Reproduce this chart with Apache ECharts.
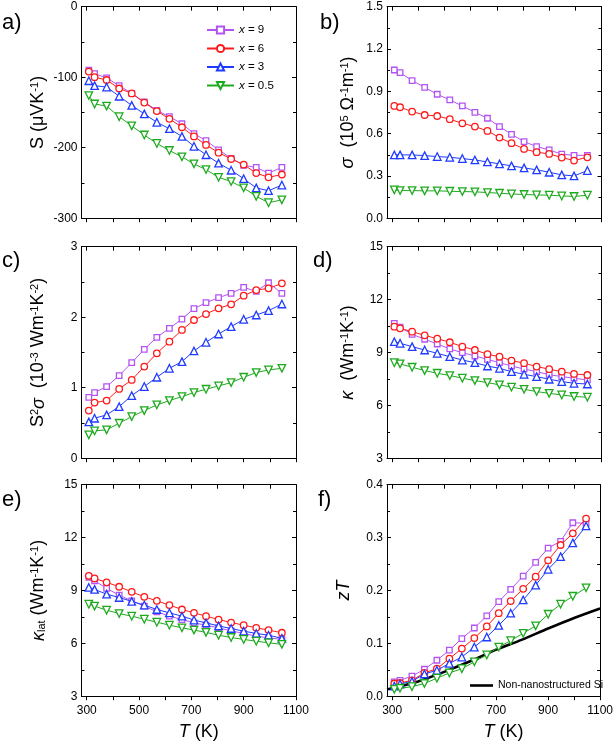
<!DOCTYPE html>
<html><head><meta charset="utf-8">
<script src="https://cdn.jsdelivr.net/npm/echarts@6/dist/echarts.min.js"></script>
<style>html,body{margin:0;padding:0;background:#fff}#c{width:616px;height:746px}</style>
</head><body><div id="c"></div>
<script>
const T = [308, 330, 376, 424, 472, 520, 568, 616, 664, 710, 756, 804, 852, 900, 948, 995, 1046];
const seriesNames = ['x = 9', 'x = 6', 'x = 3', 'x = 0.5'];
// a) Seebeck
const S9 = [-90, -95, -101, -112, -123, -135, -147, -156, -166, -180, -190, -203, -215, -225, -228, -236, -228];
const S6 = [-92, -100, -104, -116, -123, -136, -148, -159, -171, -184, -196, -207, -216, -224, -236, -242, -238];
const S3 = [-105, -112, -114, -127, -140, -152, -164, -173, -184, -198, -210, -222, -232, -244, -257, -261, -253];
const S05 = [-126, -138, -141, -156, -169, -182, -194, -204, -213, -223, -231, -242, -248, -257, -269, -278, -274];
// b) conductivity
const sig9 = [1.051, 1.032, 0.976, 0.928, 0.879, 0.839, 0.796, 0.751, 0.709, 0.650, 0.595, 0.543, 0.508, 0.484, 0.454, 0.446, 0.446];
const sig6 = [0.796, 0.787, 0.756, 0.732, 0.725, 0.702, 0.673, 0.650, 0.619, 0.572, 0.532, 0.491, 0.468, 0.456, 0.430, 0.409, 0.432];
const sig3 = [0.449, 0.449, 0.449, 0.444, 0.437, 0.432, 0.423, 0.413, 0.399, 0.385, 0.371, 0.357, 0.343, 0.326, 0.307, 0.300, 0.338];
const sig05 = [0.201, 0.196, 0.196, 0.194, 0.194, 0.191, 0.189, 0.187, 0.182, 0.177, 0.172, 0.168, 0.165, 0.163, 0.158, 0.154, 0.163];
// c) power factor
const pf9 = [0.864, 0.931, 1.016, 1.171, 1.356, 1.545, 1.715, 1.842, 1.974, 2.121, 2.206, 2.277, 2.338, 2.423, 2.367, 2.489, 2.338];
const pf6 = [0.675, 0.789, 0.817, 0.983, 1.110, 1.299, 1.488, 1.653, 1.819, 1.960, 2.045, 2.126, 2.182, 2.305, 2.385, 2.409, 2.480];
const pf3 = [0.515, 0.567, 0.614, 0.732, 0.888, 1.016, 1.148, 1.275, 1.370, 1.521, 1.644, 1.762, 1.866, 1.970, 2.031, 2.093, 2.187];
const pf05 = [0.331, 0.387, 0.402, 0.496, 0.590, 0.675, 0.756, 0.817, 0.874, 0.931, 0.978, 1.025, 1.072, 1.148, 1.214, 1.252, 1.275];
// d) thermal conductivity
const k9 = [10.65, 10.43, 10.03, 9.75, 9.48, 9.20, 8.99, 8.80, 8.61, 8.42, 8.23, 8.06, 7.91, 7.74, 7.63, 7.54, 7.44];
const k6 = [10.46, 10.37, 10.18, 9.97, 9.78, 9.58, 9.33, 9.14, 8.90, 8.76, 8.54, 8.39, 8.20, 8.05, 7.91, 7.78, 7.72];
const k3 = [9.61, 9.52, 9.33, 9.14, 8.95, 8.76, 8.57, 8.42, 8.23, 8.10, 7.91, 7.76, 7.63, 7.48, 7.35, 7.25, 7.21];
const k05 = [8.42, 8.35, 8.16, 7.97, 7.82, 7.69, 7.54, 7.40, 7.29, 7.16, 7.03, 6.91, 6.78, 6.68, 6.59, 6.50, 6.46];
// e) lattice thermal conductivity
const kl9 = [9.75, 9.55, 9.12, 8.73, 8.41, 8.11, 7.79, 7.54, 7.35, 7.16, 7.03, 6.88, 6.71, 6.56, 6.41, 6.31, 6.22];
const kl6 = [9.83, 9.68, 9.46, 9.21, 8.92, 8.64, 8.41, 8.17, 7.92, 7.73, 7.54, 7.35, 7.18, 7.03, 6.88, 6.75, 6.60];
const kl3 = [9.17, 9.06, 8.79, 8.60, 8.38, 8.17, 7.92, 7.73, 7.54, 7.32, 7.16, 6.99, 6.84, 6.69, 6.56, 6.46, 6.28];
const kl05 = [8.22, 8.11, 7.88, 7.69, 7.54, 7.37, 7.20, 7.03, 6.88, 6.75, 6.62, 6.46, 6.33, 6.22, 6.12, 6.03, 5.94];
// f) zT
const zt9 = [0.027, 0.030, 0.038, 0.051, 0.068, 0.087, 0.109, 0.129, 0.152, 0.179, 0.202, 0.227, 0.253, 0.280, 0.293, 0.328, 0.327];
const zt6 = [0.024, 0.025, 0.030, 0.044, 0.052, 0.071, 0.090, 0.110, 0.132, 0.157, 0.180, 0.203, 0.226, 0.257, 0.286, 0.308, 0.336];
const zt3 = [0.019, 0.023, 0.028, 0.042, 0.049, 0.062, 0.074, 0.093, 0.112, 0.134, 0.157, 0.182, 0.210, 0.240, 0.264, 0.290, 0.322];
const zt05 = [0.013, 0.015, 0.018, 0.024, 0.034, 0.044, 0.052, 0.065, 0.078, 0.093, 0.105, 0.119, 0.133, 0.155, 0.174, 0.189, 0.205];
const siName = 'Non-nanostructured Si';
const siT = [280, 300, 400, 500, 600, 700, 800, 900, 1000, 1100];
const siZT = [0.013, 0.015, 0.028, 0.046, 0.066, 0.088, 0.107, 0.128, 0.148, 0.166];

const xTicks = [300, 400, 500, 600, 700, 800, 900, 1000, 1100];
const xLabels = [300, 500, 700, 900, 1100];

const FONT = 'Liberation Sans, Arial, sans-serif';
const colors = ['#B354F2', '#FF1A1A', '#1F3BFF', '#1EAA1E'];
const symbols = ['rect', 'circle', 'triangle', 'triangle'];
const symSizes = [5.5, 6.5, 7.5, 7.5];
const symRot = [0, 0, 0, 180];

const panelData = [
  [S9, S6, S3, S05], [sig9, sig6, sig3, sig05],
  [pf9, pf6, pf3, pf05], [k9, k6, k3, k05],
  [kl9, kl6, kl3, kl05], [zt9, zt6, zt3, zt05]
];
const yCfg = [
  {min: -300, max: 0, interval: 100, fmt: v => String(v)},
  {min: 0, max: 1.5, interval: 0.3, fmt: v => v.toFixed(1)},
  {min: 0, max: 3, interval: 1, fmt: v => String(v)},
  {min: 3, max: 15, interval: 3, fmt: v => String(v)},
  {min: 3, max: 15, interval: 3, fmt: v => String(v)},
  {min: 0, max: 0.4, interval: 0.1, fmt: v => v.toFixed(1)}
];
const yNames = [
  '{n|S (μVK}{sup|-1}{n|)}',
  '{i|σ}{n|  (10}{sup|5}{n| Ω}{sup|-1}{n|m}{sup|-1}{n|)}',
  '{n|S}{sup|2}{i|σ}{n|  (10}{sup|-3}{n| Wm}{sup|-1}{n|K}{sup|-2}{n|)}',
  '{i|κ}{n|  (Wm}{sup|-1}{n|K}{sup|-1}{n|)}',
  '{i|κ}{sub|lat}{n| (Wm}{sup|-1}{n|K}{sup|-1}{n|)}',
  '{i|zT}'
];
const yGaps = [34, 30, 34, 30, 34, 34];
const panelLabels = ['a)', 'b)', 'c)', 'd)', 'e)', 'f)'];
const lefts = [81.5, 387];
const tops = [6.7, 246.7, 484.7];
const W = 214.5, H = 211.5;

const rich = {
  n: {fontSize: 18, fontFamily: FONT, color: '#000'},
  i: {fontSize: 18, fontFamily: FONT, fontStyle: 'italic', color: '#000'},
  sup: {fontSize: 11, fontFamily: FONT, verticalAlign: 'top', color: '#000'},
  sub: {fontSize: 11, fontFamily: FONT, verticalAlign: 'bottom', color: '#000'}
};

const grids = [], xAxes = [], yAxes = [], series = [], graphics = [];
const axisLine = {show: true, onZero: false, lineStyle: {color: '#000', width: 1}};
for (let p = 0; p < 6; p++) {
  const col = p % 2, row = Math.floor(p / 2);
  grids.push({left: lefts[col], top: tops[row], width: W, height: H});
  const bottomRow = row === 2;
  xAxes.push({
    type: 'value', gridIndex: p, min: 280, max: 1100, position: 'bottom',
    axisLine,
    axisTick: {show: true, inside: false, length: 4, customValues: xTicks, lineStyle: {color: '#000'}},
    axisLabel: {show: bottomRow, customValues: xLabels, fontSize: 12, fontFamily: FONT, color: '#000', margin: 8,
      formatter: v => String(v)},
    splitLine: {show: false},
    name: bottomRow ? '{i|T}{n| (K)}' : '', nameLocation: 'middle', nameGap: 27,
    nameTextStyle: {rich, padding: [0, 0, 0, 20]}
  });
  xAxes.push({
    type: 'value', gridIndex: p, min: 280, max: 1100, position: 'top',
    axisLine,
    axisTick: {show: true, inside: true, length: 4, customValues: xTicks, lineStyle: {color: '#000'}},
    axisLabel: {show: false}, splitLine: {show: false}
  });
  const yc = yCfg[p];
  yAxes.push({
    type: 'value', gridIndex: p, min: yc.min, max: yc.max, interval: yc.interval, position: 'left',
    axisLine,
    axisTick: {show: true, inside: true, length: 4, lineStyle: {color: '#000'}},
    minorTick: {show: true, splitNumber: 2, length: 3, lineStyle: {color: '#000'}},
    axisLabel: {show: true, fontSize: 12, fontFamily: FONT, color: '#000', margin: 4, formatter: yc.fmt},
    splitLine: {show: false}, minorSplitLine: {show: false},
    name: yNames[p], nameLocation: 'middle', nameGap: yGaps[p],
    nameTextStyle: {rich}
  });
  yAxes.push({
    type: 'value', gridIndex: p, min: yc.min, max: yc.max, interval: yc.interval, position: 'right',
    axisLine,
    axisTick: {show: true, inside: true, length: 4, lineStyle: {color: '#000'}},
    minorTick: {show: true, splitNumber: 2, length: 3, lineStyle: {color: '#000'}},
    axisLabel: {show: false}, splitLine: {show: false}
  });
  panelData[p].forEach((arr, s) => {
    series.push({
      type: 'line', name: seriesNames[s], xAxisIndex: 2 * p, yAxisIndex: 2 * p,
      data: T.map((t, k) => [t, arr[k]]), color: colors[s],
      symbol: symbols[s], symbolSize: symSizes[s], symbolRotate: symRot[s], showAllSymbol: true,
      lineStyle: {color: colors[s], width: 1},
      itemStyle: {color: '#fff', borderColor: colors[s], borderWidth: 1.3},
      emphasis: {disabled: true}, animation: false, z: 3 + s
    });
  });
  graphics.push({
    type: 'text', left: [2, 313][col] + (p === 1 ? 7 : 0) + (p === 5 ? 5 : 0), top: [12, 250, 489][row],
    style: {text: panelLabels[p], font: '22px ' + FONT, fill: '#000'}
  });
}
series.push({
  type: 'line', name: siName, xAxisIndex: 10, yAxisIndex: 10, color: '#000',
  data: siT.map((t, k) => [t, siZT[k]]), smooth: 0.3, symbol: 'none',
  lineStyle: {color: '#000', width: 2.6}, itemStyle: {color: '#000'},
  emphasis: {disabled: true}, animation: false, z: 2
});

const option = {
  animation: false,
  backgroundColor: '#fff',
  grid: grids, xAxis: xAxes, yAxis: yAxes, series,
  graphic: graphics,
  legend: [
    {
      data: seriesNames, orient: 'vertical', left: 201, top: 19,
      itemWidth: 27, itemHeight: 9, itemGap: 6.5,
      textStyle: {fontSize: 11.5, fontFamily: FONT, color: '#000',
        rich: {i: {fontStyle: 'italic', fontSize: 11.5, fontFamily: FONT, color: '#000'},
               t: {fontSize: 11.5, fontFamily: FONT, color: '#000'}}},
      formatter: name => '{i|x}{t|' + name.slice(1) + '}',
      selectedMode: false
    },
    {
      data: [{name: siName, icon: 'rect', itemStyle: {color: '#000'}}], left: 465, top: 675,
      itemWidth: 23, itemHeight: 2.6, itemGap: 3,
      textStyle: {fontSize: 10.5, fontFamily: FONT, color: '#000'},
      selectedMode: false
    }
  ]
};
const chart = echarts.init(document.getElementById('c'), null, {renderer: 'canvas'});
chart.setOption(option);
</script></body></html>
